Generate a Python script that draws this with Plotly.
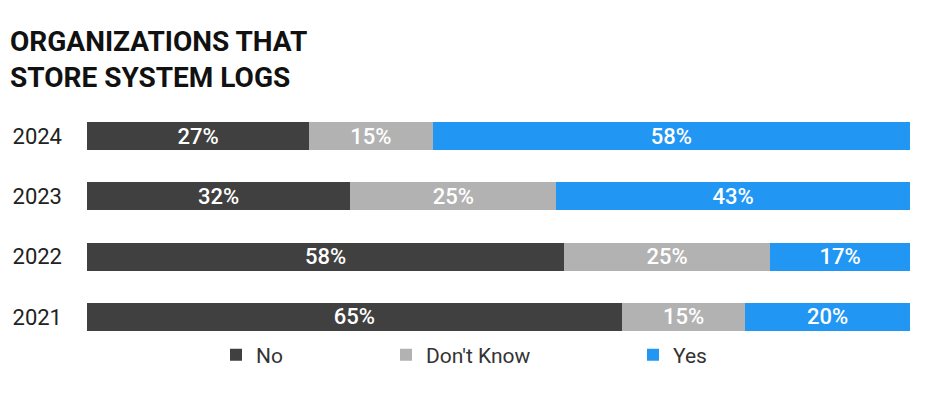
import plotly.graph_objects as go

years = ["2021", "2022", "2023", "2024"]
no_vals = [65, 58, 32, 27]
dk_vals = [15, 25, 25, 15]
yes_vals = [20, 17, 43, 58]
series_names = ["No", "Don't Know", "Yes"]
colors = ["#404040", "#b2b2b2", "#2196f3"]

W, H = 936, 398
fig = go.Figure()
legend_ids = ["legend", "legend2", "legend3"]
for name, vals, col, lg in zip(series_names, [no_vals, dk_vals, yes_vals], colors, legend_ids):
    fig.add_trace(go.Bar(
        y=years, x=vals, name=name, orientation="h",
        marker=dict(color=col, line=dict(width=0)),
        text=[f"{v}%" for v in vals], textposition="inside",
        insidetextanchor="middle", constraintext="none",
        textfont=dict(color="white", size=22, family="Roboto", weight=500),
        legend=lg, hoverinfo="skip",
    ))

ml, mr, mt, mb = 87, 26, 106, 51
pw = W - ml - mr
ph = H - mt - mb

def lx(px):
    return (px - ml) / pw

leg_common = dict(orientation="h", yanchor="middle", xanchor="left",
                  font=dict(size=21, family="Roboto", color="#333333"),
                  bgcolor="rgba(0,0,0,0)", itemwidth=30)
legend_y = -(355 - (H - mb)) / ph

fig.update_layout(
    width=W, height=H,
    margin=dict(l=ml, r=mr, t=mt, b=mb),
    paper_bgcolor="white", plot_bgcolor="white",
    barmode="stack", bargap=0.535,
    showlegend=True,
    title=dict(text="<b>ORGANIZATIONS THAT<br>STORE SYSTEM LOGS</b>",
               x=10 / W, xref="container", xanchor="left",
               y=1 - 51 / H, yref="container", yanchor="top",
               font=dict(size=28, family="Roboto", color="#111111")),
    xaxis=dict(range=[0, 100], showgrid=False, zeroline=False, showticklabels=False,
               showline=False, fixedrange=True),
    yaxis=dict(categoryorder="array", categoryarray=years, showgrid=False,
               zeroline=False, showline=False, ticks="",
               tickfont=dict(size=22, family="Roboto", color="#222222"),
               ticklabelstandoff=24),
    legend=dict(**leg_common, x=lx(216), y=legend_y),
    legend2=dict(**leg_common, x=lx(386), y=legend_y),
    legend3=dict(**leg_common, x=lx(633), y=legend_y),
)

fig.write_html("out.html")
